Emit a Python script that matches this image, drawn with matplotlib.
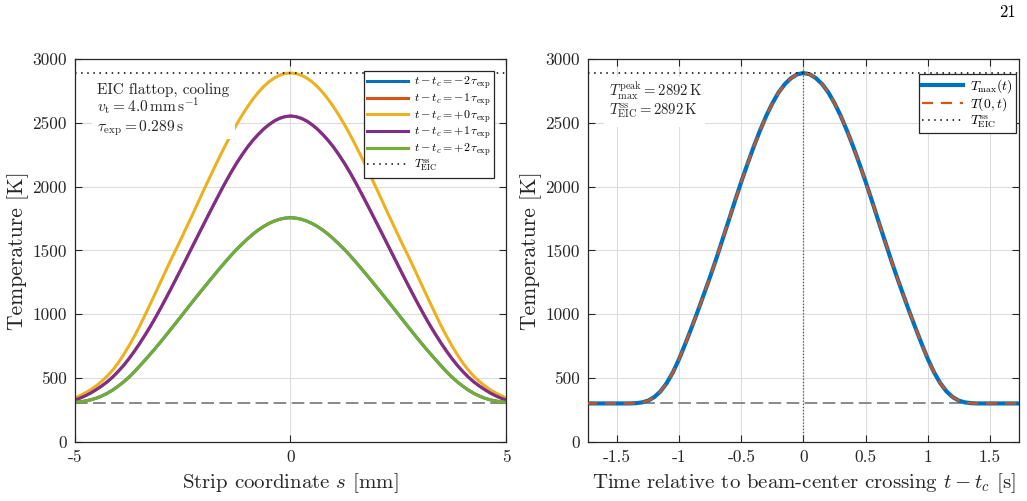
import matplotlib
matplotlib.use("Agg")
import matplotlib.pyplot as plt
from matplotlib.patches import Rectangle
import numpy as np

plt.rcParams['font.family'] = 'serif'
plt.rcParams['font.serif'] = ['cmr10']
plt.rcParams['mathtext.fontset'] = 'cm'
plt.rcParams['axes.unicode_minus'] = False
plt.rcParams['axes.formatter.use_mathtext'] = True

# ---- data ----
T_EIC = 2892          # steady-state EIC temperature [K]
T_amb = 300           # ambient baseline [K]

# left panel: profiles along the strip, s = -5 ... 5 mm in 0.125 mm steps
s_mm = np.linspace(-5, 5, 81)
T_p0 = [343, 363, 385, 410, 440, 475, 515, 562, 617, 680, 750, 825, 906, 993, 1082, 1172,
        1263, 1354, 1444, 1530, 1618, 1709, 1798, 1891, 1982, 2072, 2161, 2248, 2332, 2413,
        2489, 2560, 2626, 2686, 2739, 2785, 2823, 2853, 2875, 2888, 2892,
        2888, 2875, 2853, 2823, 2785, 2739, 2686, 2626, 2560, 2489, 2413, 2332, 2248, 2161,
        2072, 1982, 1891, 1798, 1709, 1618, 1530, 1444, 1354, 1263, 1172, 1082, 993, 906,
        825, 750, 680, 617, 562, 515, 475, 440, 410, 385, 363, 343]
T_p1 = [327, 343, 362, 384, 410, 438, 470, 507, 550, 597, 650, 708, 770, 836, 905, 978,
        1055, 1134, 1215, 1297, 1380, 1464, 1548, 1632, 1715, 1798, 1880, 1961, 2040, 2115,
        2185, 2250, 2310, 2363, 2410, 2452, 2487, 2516, 2537, 2550, 2555,
        2550, 2537, 2516, 2487, 2452, 2410, 2363, 2310, 2250, 2185, 2115, 2040, 1961, 1880,
        1798, 1715, 1632, 1548, 1464, 1380, 1297, 1215, 1134, 1055, 978, 905, 836, 770,
        708, 650, 597, 550, 507, 470, 438, 410, 384, 362, 343, 327]
T_p2 = [309, 313, 320, 329, 342, 359, 380, 405, 435, 468, 505, 547, 593, 640, 688, 737,
        788, 840, 893, 946, 1000, 1054, 1107, 1160, 1212, 1264, 1315, 1366, 1415, 1463,
        1508, 1550, 1590, 1627, 1660, 1688, 1712, 1731, 1745, 1754, 1757,
        1754, 1745, 1731, 1712, 1688, 1660, 1627, 1590, 1550, 1508, 1463, 1415, 1366, 1315,
        1264, 1212, 1160, 1107, 1054, 1000, 946, 893, 840, 788, 737, 688, 640, 593,
        547, 505, 468, 435, 405, 380, 359, 342, 329, 320, 313, 309]
# -1 and -2 tau profiles sit exactly under the +1 / +2 ones
T_m1 = list(T_p1)
T_m2 = list(T_p2)
profile_labels = ['-2', '-1', '+0', '+1', '+2']

# right panel: time history, t - t_c = -1.75 ... 1.75 s in 0.05 s steps
t_s = np.linspace(-1.75, 1.75, 71)
T_max = [300, 300, 300, 300, 300, 300, 300, 300, 302, 308, 322, 350, 395, 460, 545, 650,
         770, 895, 1025, 1160, 1297, 1440, 1590, 1740, 1892, 2040, 2180, 2315, 2440, 2555,
         2655, 2740, 2805, 2852, 2882, 2892, 2882, 2852, 2805, 2740, 2655, 2555, 2440, 2315,
         2180, 2040, 1892, 1740, 1590, 1440, 1297, 1160, 1025, 895, 770, 650, 545, 460, 395,
         350, 322, 308, 302, 300, 300, 300, 300, 300, 300, 300, 300]
T_center = list(T_max)

colors = ['#0072BD', '#D95319', '#EDB120', '#7E2F8E', '#77AC30']
ink = '#262626'

fig = plt.figure(figsize=(10.27, 5.01), dpi=100)
ax1 = fig.add_axes([0.073, 0.1184, 0.4197, 0.7633])
ax2 = fig.add_axes([0.5725, 0.1184, 0.4197, 0.7633])

for ax in (ax1, ax2):
    ax.grid(True, color='#dcdcdc', linewidth=0.8)
    ax.set_axisbelow(True)
    ax.tick_params(direction='in', top=True, right=True, length=5, width=0.8,
                   labelsize=12.5, colors=ink, pad=6)
    for sp in ax.spines.values():
        sp.set_color(ink)
        sp.set_linewidth(0.9)
    ax.set_ylim(0, 3000)
    ax.set_yticks([0, 500, 1000, 1500, 2000, 2500, 3000])
    ax.set_yticklabels(['0', '500', '1000', '1500', '2000', '2500', '3000'])
    ax.set_ylabel('Temperature [K]', fontsize=15.5, color=ink, labelpad=2)

# ---- left panel ----
ax1.axhline(T_amb, color='#808080', linestyle=(0, (7, 3)), linewidth=1.3, zorder=1)
for T, lab, c in zip([T_m2, T_m1, T_p0, T_p1, T_p2], profile_labels, colors):
    ax1.plot(s_mm, T, color=c, linewidth=2.2, zorder=2,
             label=r'$t - t_c = %s\,\tau_{\mathrm{exp}}$' % lab)
ax1.axhline(T_EIC, color='k', linestyle=(0, (1, 3)), linewidth=1.1, zorder=2,
            label=r'$T_{\mathrm{EIC}}^{\mathrm{ss}}$')
ax1.set_xlim(-5, 5)
ax1.set_xticks([-5, 0, 5])
ax1.set_xticklabels(['-5', '0', '5'])
ax1.set_xlabel(r'Strip coordinate $s$ [mm]', fontsize=15, color=ink, labelpad=4)
leg1 = ax1.legend(loc='upper right', fontsize=8.6, handlelength=3.4, labelspacing=0.0,
                  fancybox=False, framealpha=1, edgecolor=ink, borderaxespad=1.0,
                  borderpad=0.3, handletextpad=0.5)
leg1.get_frame().set_linewidth(0.9)
leg1.set_zorder(5)

# white panel behind the run annotation (hides grid and curve beneath it)
ax1.add_patch(Rectangle((0.039, 0.7916), 0.332, 0.154, transform=ax1.transAxes,
                        facecolor='white', edgecolor='none', zorder=3))
ax1.text(0.051, 0.909, 'EIC flattop, cooling', transform=ax1.transAxes,
         ha='left', va='baseline', fontsize=11, color=ink, zorder=4)
ax1.text(0.051, 0.861, r'$v_{\mathrm{t}} = 4.0\,\mathrm{mm\,s^{-1}}$', transform=ax1.transAxes,
         ha='left', va='baseline', fontsize=11.2, color=ink, zorder=4)
ax1.text(0.051, 0.811, r'$\tau_{\mathrm{exp}} = 0.289\,\mathrm{s}$', transform=ax1.transAxes,
         ha='left', va='baseline', fontsize=11.2, color=ink, zorder=4)

# ---- right panel ----
ax2.axhline(T_amb, color='#808080', linestyle=(0, (7, 3)), linewidth=1.3, zorder=1)
ax2.axvline(0, color='#555555', linestyle=(0, (1, 1.5)), linewidth=0.9, zorder=1)
ax2.plot(t_s, T_max, color=colors[0], linewidth=3.0, zorder=2, label=r'$T_{\max}(t)$')
ax2.plot(t_s, T_center, color=colors[1], linewidth=1.6, linestyle=(0, (5, 3.5)), zorder=3,
         label=r'$T(0,t)$')
ax2.axhline(T_EIC, color='k', linestyle=(0, (1, 3)), linewidth=1.1, zorder=2,
            label=r'$T_{\mathrm{EIC}}^{\mathrm{ss}}$')
ax2.set_xlim(-1.734, 1.734)
ax2.set_xticks([-1.5, -1, -0.5, 0, 0.5, 1, 1.5])
ax2.set_xticklabels(['-1.5', '-1', '-0.5', '0', '0.5', '1', '1.5'])
ax2.set_xlabel(r'Time relative to beam-center crossing $t - t_c$ [s]', fontsize=15,
               color=ink, labelpad=4)
leg2 = ax2.legend(loc='upper right', fontsize=9.8, handlelength=3.0, labelspacing=0.0,
                  fancybox=False, framealpha=1, edgecolor=ink, borderaxespad=0.1,
                  borderpad=0.25, handletextpad=0.5, bbox_to_anchor=(0.996, 0.965))
leg2.get_frame().set_linewidth(0.9)
leg2.set_zorder(5)

ax2.add_patch(Rectangle((0.037, 0.823), 0.2345, 0.1307, transform=ax2.transAxes,
                        facecolor='white', edgecolor='none', zorder=3))
ax2.text(0.049, 0.904, r'$T_{\max}^{\mathrm{peak}} = 2892\,\mathrm{K}$', transform=ax2.transAxes,
         ha='left', va='baseline', fontsize=10.6, color=ink, zorder=4)
ax2.text(0.049, 0.856, r'$T_{\mathrm{EIC}}^{\mathrm{ss}} = 2892\,\mathrm{K}$', transform=ax2.transAxes,
         ha='left', va='baseline', fontsize=10.6, color=ink, zorder=4)

fig.text(0.989, 0.99, '21', ha='right', va='top', fontsize=12, color='k')

fig.savefig('out.png', dpi=100)
